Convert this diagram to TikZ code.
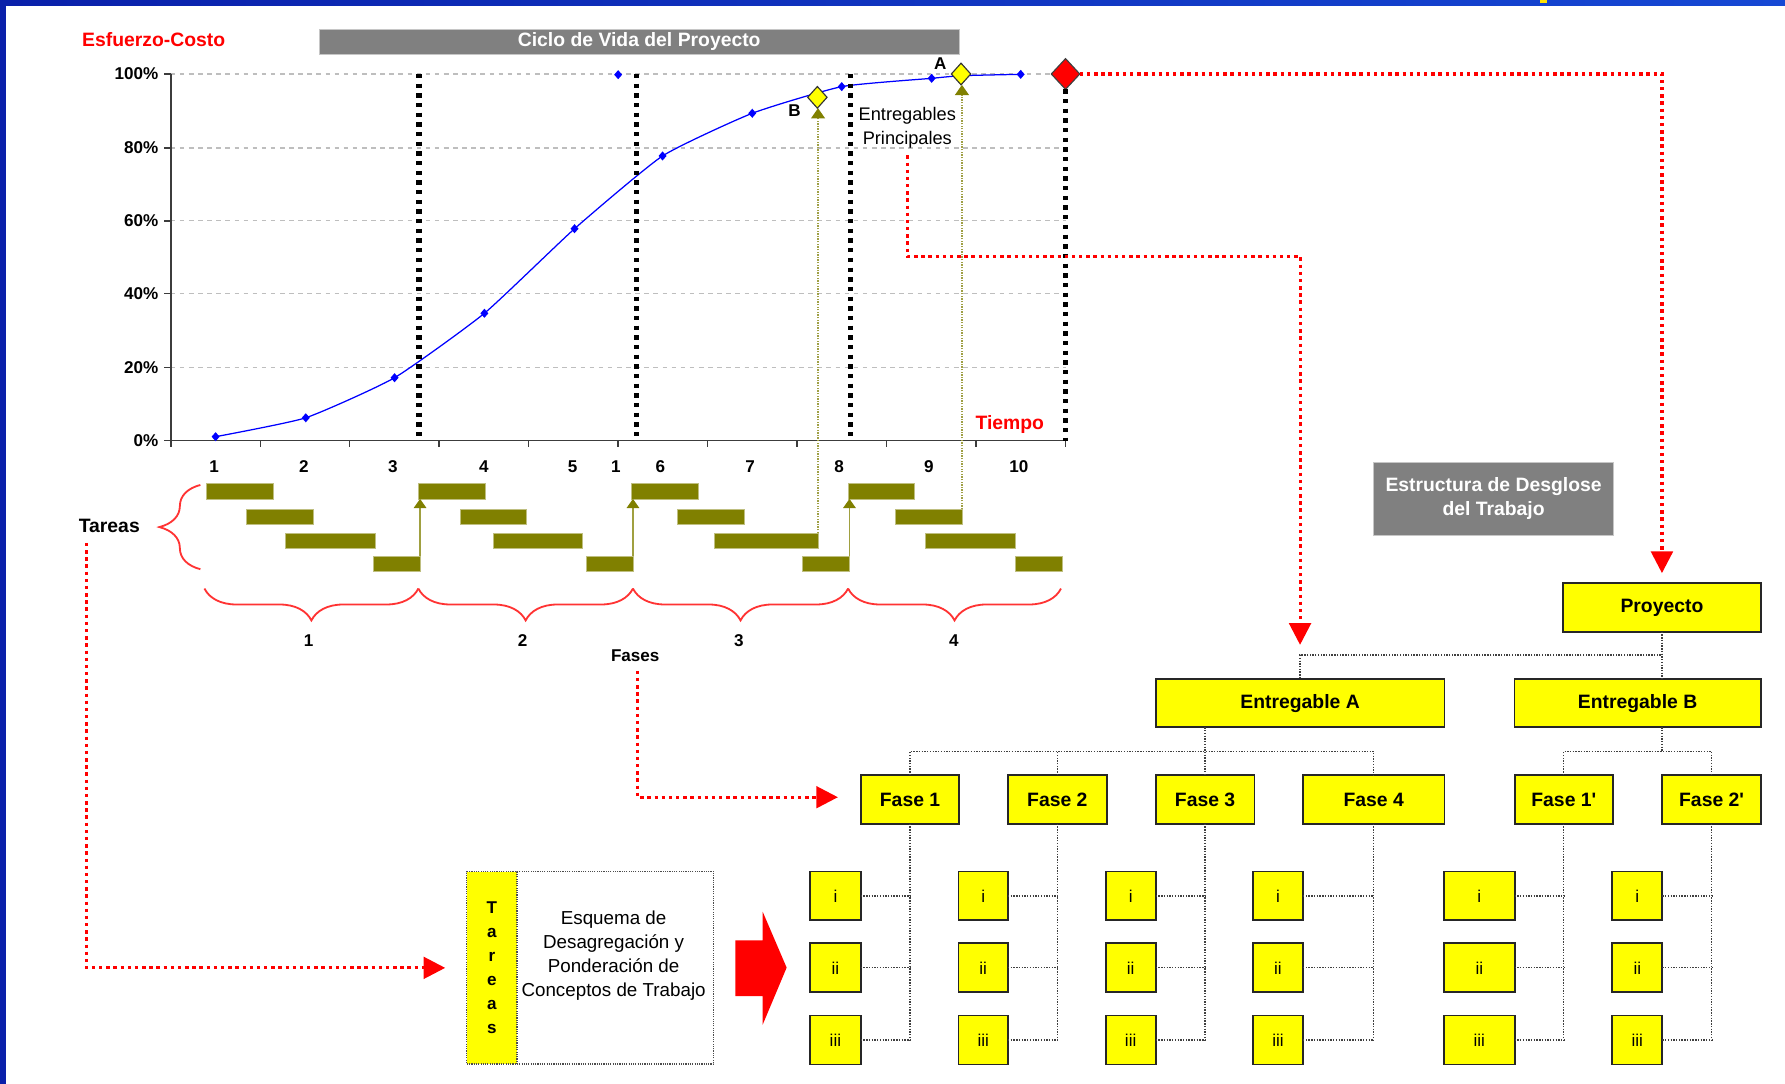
\documentclass[tikz,border=0pt]{standalone}
\usepackage{fontspec}
\setmainfont{Liberation Sans}
\usetikzlibrary{arrows.meta,calc,decorations.pathreplacing,shapes.geometric}

\definecolor{olivebar}{RGB}{128,128,0}
\definecolor{olivelight}{RGB}{160,160,70}
\definecolor{wbsyellow}{RGB}{255,255,0}
\definecolor{slideblue}{RGB}{10,32,170}
\definecolor{slideblue2}{RGB}{22,72,212}
\definecolor{titlegray}{RGB}{128,128,128}
\definecolor{gridgray}{RGB}{190,190,190}
\definecolor{axisgray}{RGB}{60,60,60}

\newcommand{\txtsize}[1]{\fontsize{#1}{21}\selectfont}

\begin{document}
\begin{tikzpicture}[x=1pt,y=-1pt,
	every node/.style={inner sep=0pt,outer sep=0pt},
	lbl/.style={font=\txtsize{15}\bfseries},
	wbsbox/.style={draw=black!85,line width=1.6pt,fill=wbsyellow,minimum height=42.5pt,font=\txtsize{17}\bfseries},
	itembox/.style={draw=black!85,line width=1.6pt,fill=wbsyellow,minimum height=43pt,anchor=east,font=\txtsize{15}},
	wbsline/.style={black!75,line width=1.1pt,dash pattern=on 1.2pt off 1.2pt},
	reddots/.style={red,line width=2.7pt,dash pattern=on 3pt off 3.3pt,-{Triangle[length=19pt,width=19pt]}},
	phaseline/.style={black,line width=4.6pt,dash pattern=on 3.8pt off 4.7pt},
	taskbar/.style={fill=olivebar,draw=olivebar!50!white,line width=0.5pt,minimum height=13.5pt,anchor=west},
	olivearrow/.style={olivebar!75!white,line width=1.1pt,-{Triangle[length=8pt,width=11pt,color=olivebar]}},
	olivedots/.style={olivelight,line width=1.8pt,dash pattern=on 1.2pt off 1.1pt,-{Triangle[length=9pt,width=12pt,color=olivebar]}},
	bracered/.style={draw=red!80!white,line width=1.6pt,decorate,decoration={brace,amplitude=#1}},
	bracered/.default=28pt,
	ydiam/.style={diamond,draw=black!80,line width=1pt,fill=wbsyellow,minimum width=17pt,minimum height=19pt},
	datamark/.style={diamond,fill=blue,minimum width=7pt,minimum height=8pt}]

	\useasboundingbox (0,0) rectangle (1568,952);
	\fill[white] (0,0) rectangle (1568,952);
	% slide frame
	\fill[slideblue] (0,0) rectangle (5,952);
	\shade[left color=slideblue,right color=slideblue2] (0,0) rectangle (1568,4.4);
	\fill[yellow!85!orange] (1353,0) rectangle (1359,2.5);

	% chart titles
	\node[text=red,font=\txtsize{17}\bfseries] (cost) at (135,35) {Esfuerzo-Costo};
	\node[draw=gray!45,fill=titlegray,minimum width=563pt,minimum height=21.5pt,
		text=white,font=\txtsize{17}\bfseries] (cycle) at (561.5,36.5) {Ciclo de Vida del Proyecto};

	% grid and axes
	\foreach \y in {65,130,194,258,323}
		\draw[gridgray,line width=1pt,dash pattern=on 4pt off 4pt] (150,\y) -- (936,\y);
	\draw[axisgray,line width=1.6pt] (150,65) -- (150,387) -- (936,387);
	\foreach \i in {0,...,10}
		\draw[axisgray,line width=1.3pt] ({150+78.6*\i},387) -- ++(0,6);
	\foreach \y/\t in {65/100,130/80,194/60,258/40,323/20,387/0}{
		\draw[axisgray,line width=1.3pt] (150,\y) -- ++(-6,0);
		\node[lbl,anchor=east] (yl\t) at (139,\y) {\t\%};
	}
	\foreach \x/\t [count=\k] in {188/1,267/2,345/3,425/4,503/5,541/1,580/6,659/7,737/8,816/9,895/10}
		\node[lbl] (xl\k) at (\x,410) {\t};
	\node[text=red,font=\txtsize{17}\bfseries] (time) at (887,373) {Tiempo};

	% effort curve
	\draw[blue,line width=1.1pt] plot[smooth,tension=0.3] coordinates {(189.4,383.6) (268.6,367) (346.6,331.8)
		(425.5,275.2) (504.7,200.9) (582,137) (660.8,99.5) (739.4,76.1) (818.4,68.8) (844.2,66.5) (896.6,65.3)};
	\foreach \x/\y [count=\k] in {189.4/383.6,268.6/367,346.6/331.8,425.5/275.2,504.7/200.9,
		582/137,660.8/99.5,739.4/76.1,818.4/68.8,896.6/65.3,543/65.6}
		\node[datamark] (pt\k) at (\x,\y) {};

	% phase limits
	\foreach \x in {368,559,747}
		\draw[phaseline] (\x,65) -- (\x,387);
	\node[diamond,draw=black!75,line width=1pt,fill=red,minimum width=25pt,minimum height=27pt] (rdiam) at (936,65) {};
	\draw[phaseline] (rdiam.south) -- (rdiam.south |- yl0.east);

	% main deliverables
	\node[ydiam] (B) at (718,85.5) {};
	\node[ydiam] (A) at (844.2,65) {};
	\node[lbl] (Blbl) at (698,97) {B};
	\node[lbl] (Albl) at (826,56) {A};
	\node[font=\txtsize{16},align=center] (ent) at (797,112.5) {Entregables\\Principales};

	% task bars
	\foreach \n/\a/\b/\y in {p1r1/181.5/240/431.5,p1r2/216.7/275.2/454,p1r3/251/329.4/475,p1r4/328/369/495,
		p2r1/367.8/426.7/431.5,p2r2/403.9/462/454,p2r3/433/511.8/475,p2r4/515/556/495,
		p3r1/554.6/613.8/431.5,p3r2/595/653.5/454,p3r3/627.2/718.6/475,p3r4/704.5/746.2/495,
		p4r1/745/803.4/431.5,p4r2/786.5/845/454,p4r3/812.5/891.5/475,p4r4/891.5/933.2/495}
		\node[taskbar,minimum width={(\b-\a)*1pt}] (\n) at (\a,\y) {};
	\draw[olivearrow] (p1r4.north east) -- (p1r4.north east |- p2r1.south);
	\draw[olivearrow] (p2r4.north east) -- (p2r4.north east |- p3r1.south);
	\draw[olivearrow] (p3r4.north east) -- (p3r4.north east |- p4r1.south);
	\draw[olivedots] (p3r3.north east) -- (p3r3.north east |- B.south);
	\draw[olivedots] (p4r2.north east) -- (p4r2.north east |- A.south);

	% braces
	\node[lbl,font=\txtsize{17}\bfseries] (tareas) at (96,462) {Tareas};
	\draw[bracered=36pt] (176,500) -- (176,426);
	\foreach \a/\b/\t/\c in {179.6/367.5/1/271,367.5/556/2/459,556/745/3/649,745/932/4/838}{
		\draw[bracered] (\b,517) -- (\a,517);
		\node[lbl] (fl\t) at (\c,563) {\t};
	}
	\node[lbl] (fases) at (558,576) {Fases};

	% work breakdown structure
	\node[draw=gray!45,fill=titlegray,minimum width=211pt,minimum height=63.6pt,align=center,
		text=white,font=\txtsize{17}\bfseries] (wbs) at (1312,438.2) {Estructura de Desglose\\del Trabajo};
	\node[wbsbox,minimum width=173.7pt] (proj) at (1459.9,533.7) {Proyecto};
	\node[wbsbox,minimum width=253.6pt] (ea) at (1142,617.7) {Entregable A};
	\node[wbsbox,minimum width=216.3pt] (eb) at (1438.5,617.7) {Entregable B};
	\node[wbsbox,minimum width=86.7pt] (f1) at (799.4,702.3) {Fase 1};
	\node[wbsbox,minimum width=86.7pt] (f2) at (928.8,702.3) {Fase 2};
	\node[wbsbox,minimum width=86.8pt] (f3) at (1058.6,702.3) {Fase 3};
	\node[wbsbox,minimum width=124.2pt] (f4) at (1206.7,702.3) {Fase 4};
	\node[wbsbox,minimum width=86.5pt] (f1p) at (1373.7,702.3) {Fase 1\textquotesingle};
	\node[wbsbox,minimum width=86.5pt] (f2p) at (1503.5,702.3) {Fase 2\textquotesingle};

	\draw[wbsline] (proj.south) -- (proj.south |- eb.north);
	\draw[wbsline] (proj.south) |- ($(ea.north)+(0,-21)$) -- (ea.north);
	\draw[wbsline] (ea.south -| f3.north) -- (f3.north);
	\draw[wbsline] (f1.north) -- ++(0,-21) -| (f4.north);
	\draw[wbsline] (f2.north) -- ++(0,-21);
	\draw[wbsline] (eb.south -| proj.south) -- ++(0,21);
	\draw[wbsline] (f1p.north) -- ++(0,-21) -| (f2p.north);

	\foreach \f/\w in {f1/44.4,f2/43.5,f3/44,f4/44,f1p/62,f2p/44}{
		\foreach \y/\t/\k in {787/i/1,850.2/ii/2,913.6/iii/3}{
			\node[itembox,minimum width=\w pt] (\f i\k) at (\f.west |- 0,\y) {\t};
			\draw[wbsline] (\f i\k.east) -- (\f i\k.east -| \f.south);
		}
		\draw[wbsline] (\f.south) -- (\f.south |- \f i3.east);
	}

	% tasks scheme
	\node[draw=black!70,line width=1pt,dash pattern=on 1pt off 1pt,minimum width=217pt,minimum height=169pt] (tbox) at (518.6,850.2) {};
	\node[draw=black!70,line width=1pt,dash pattern=on 1pt off 1pt,fill=wbsyellow,minimum width=44pt,minimum height=169pt,anchor=west] (tstrip) at (tbox.west) {};
	\node[font=\txtsize{15}\bfseries,align=center] (tvert) at (tstrip) {T\\a\\r\\e\\a\\s};
	\node[font=\txtsize{16.5},align=center] (esq) at (539,839.3) {Esquema de\\Desagregación y\\Ponderación de\\Conceptos de Trabajo};
	\fill[red] (646,826) -- (670,826) -- (670,801) -- (691,850) -- (670,900) -- (670,875) -- (646,875) -- cycle;

	% red links
	\draw[reddots] (rdiam.east) -| ($(proj.north)+(0,-9)$);
	\draw[reddots] ($(ent.south)+(0,6)$) -- (ent.south |- 0,225) -| ($(ea.north)+(0,-30)$);
	\draw[reddots] ($(fases.south)+(2,8)$) |- ($(f1.west)+(-20,-2)$);
	\draw[reddots] ($(tareas.south)+(-20,9)$) |- ($(tbox.west)+(-19,0)$);
\end{tikzpicture}
\end{document}
